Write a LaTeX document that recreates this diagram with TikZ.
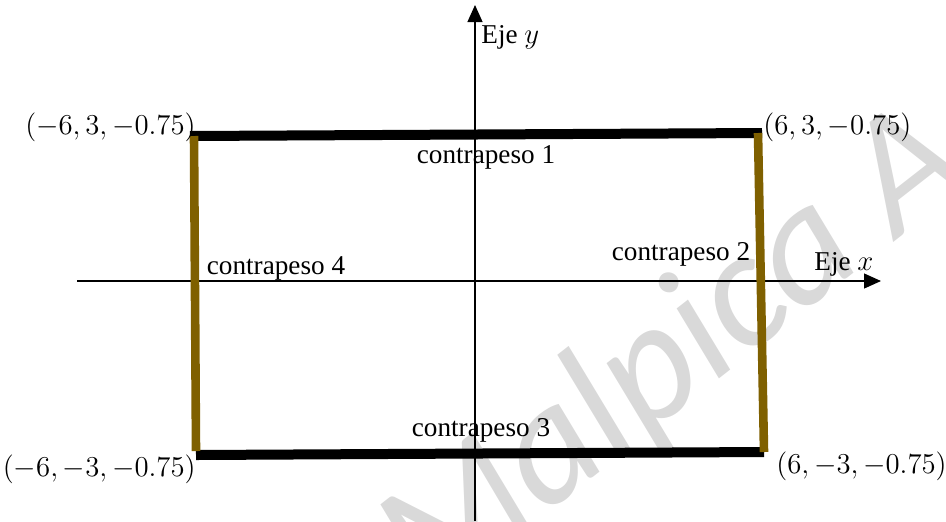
\documentclass[tikz,border=0pt]{standalone}
\usepackage{fontspec}
\setmainfont{Liberation Serif}
\newfontfamily\wmfont{Carlito}
\usetikzlibrary{positioning}
\usetikzlibrary{arrows.meta}
\definecolor{ocre}{RGB}{127,96,0}
\tikzset{axis/.style={line width=0.6pt,-{Triangle[length=8.5pt,width=7.5pt]}}}
\tikzset{blackbar/.style={line width=5pt,black}}
\tikzset{brownbar/.style={line width=4.3pt,ocre}}
\tikzset{lbl/.style={inner sep=0pt,font=\fontsize{13.6}{16}\selectfont}}

\begin{document}
\begin{tikzpicture}[x=0.5pt,y=-0.5pt]
            \useasboundingbox (0,0) rectangle (946,521);
            % watermark
            \node (wm) [anchor=base west,rotate=38,text=black!15,inner sep=0pt,
                font=\wmfont\itshape\fontsize{85}{85}\selectfont] at (430,605) {Malpica A};

            % axes
            \coordinate (xa) at (77,281);
            \coordinate (xb) at (881,281);
            \coordinate (ya) at (475,521);
            \coordinate (yb) at (475,5);
            \draw[axis] (xa) -- (xb);
            \draw[axis] (ya) -- (yb);

            % corners
            \coordinate (c1) at (190,136);
            \coordinate (c2) at (762,133);
            \coordinate (c3) at (196,455);
            \coordinate (c4) at (764,452);

            \draw[blackbar] (c1) -- (c2);
            \draw[blackbar] (c3) -- (c4);
            \draw[brownbar] ([xshift=2]c1) -- ([yshift=2]c3);
            \draw[brownbar] ([xshift=-2]c2) -- (c4);

            \node (p1) [lbl,anchor=east]  at (196,127) {\((-6, 3, -0.75)\)};
            \node (p2) [lbl,anchor=west]  at (763,127) {\((6, 3, -0.75)\)};
            \node (p3) [lbl,anchor=east]  at (196,469) {\((-6, -3, -0.75)\)};
            \node (p4) [lbl,anchor=west]  at (776,466) {\((6, -3, -0.75)\)};

            \node (ey) [lbl,anchor=west]  at (481,37)  {Eje \(y\)};
            \node (ex) [lbl,anchor=west]  at (814,264) {Eje \(x\)};

            \node (w1) [lbl] at (486,157) {contrapeso 1};
            \node (w2) [lbl] at (681,254) {contrapeso 2};
            \node (w3) [lbl] at (481,430) {contrapeso 3};
            \node (w4) [lbl] at (276,268) {contrapeso 4};
        \end{tikzpicture}
\end{document}
